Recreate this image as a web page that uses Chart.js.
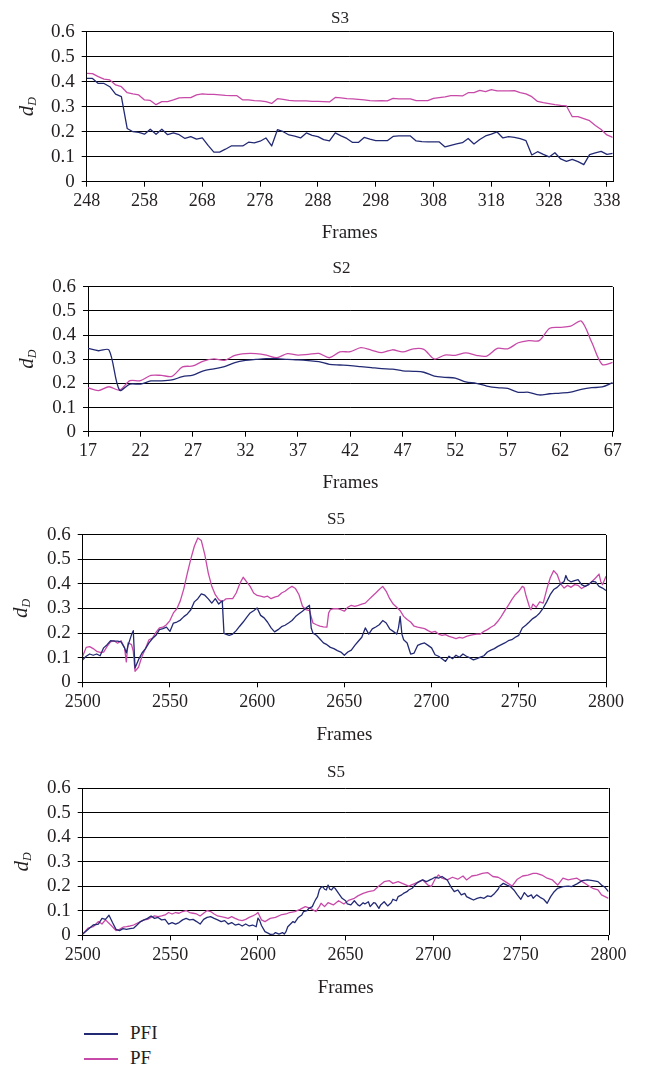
<!DOCTYPE html>
<html>
<head>
<meta charset="utf-8">
<script src="https://cdn.jsdelivr.net/npm/chart.js@4.4.0/dist/chart.umd.min.js"></script>
<style>
  body { margin: 0; background: #fff; width: 649px; height: 1068px; position: relative; overflow: hidden; }
  canvas { position: absolute; left: 0; }
  .key { position: absolute; left: 84px; width: 34px; height: 1.5px; }
  .lbl { position: absolute; left: 130px; font: 19px "Liberation Serif", serif; line-height: 22px; color: #231f20; }
</style>
</head>
<body>
<canvas id="s3" width="649" height="250" style="top:0px"></canvas>
<canvas id="s2" width="649" height="250" style="top:250px"></canvas>
<canvas id="s5a" width="649" height="250" style="top:500px"></canvas>
<canvas id="s5b" width="649" height="250" style="top:760px"></canvas>
<div class="key" style="top:1033px;background:#232a74"></div><div class="lbl" style="top:1022px">PFI</div>
<div class="key" style="top:1058px;background:#c84aa8"></div><div class="lbl" style="top:1047px">PF</div>
<script>
// ---- data ----
const seriesNames = ['PFI', 'PF'];

// S3, frames 248..339
const s3Frames = [];
for (let f = 248; f <= 339; f++) s3Frames.push(f);
const s3Ticks = [248, 258, 268, 278, 288, 298, 308, 318, 328, 338];
const s3PFI = [.413, .413, .393, .393, .38, .35, .34, .213, .2, .197,
  .19, .21, .19, .21, .188, .195, .188, .173, .18, .17,
  .175, .145, .118, .118, .13, .143, .143, .143, .158, .155,
  .162, .175, .143, .208, .2, .187, .182, .175, .195, .185,
  .18, .168, .163, .195, .183, .173, .157, .157, .177, .17,
  .164, .164, .164, .181, .183, .183, .183, .163, .16, .159,
  .159, .159, .139, .145, .151, .156, .173, .151, .169, .183,
  .19, .199, .175, .18, .177, .172, .164, .107, .12, .109,
  .099, .116, .091, .081, .089, .08, .068, .108, .115, .121,
  .109, .113];
const s3PF = [.433, .432, .42, .41, .407, .387, .38, .356, .351, .347,
  .327, .325, .308, .32, .32, .327, .335, .336, .336, .347,
  .351, .349, .349, .347, .345, .344, .344, .327, .327, .324,
  .323, .32, .313, .332, .329, .325, .323, .323, .323, .321,
  .321, .32, .319, .337, .335, .332, .331, .329, .327, .324,
  .323, .324, .323, .333, .331, .331, .331, .324, .324, .324,
  .333, .336, .339, .344, .344, .343, .356, .356, .365, .36,
  .368, .363, .363, .363, .364, .356, .351, .34, .321, .316,
  .312, .308, .305, .303, .26, .26, .252, .244, .225, .209,
  .187, .177];

// S2, frames 17..67
const s2Frames = [];
for (let f = 17; f <= 67; f++) s2Frames.push(f);
const s2Ticks = [17, 22, 27, 32, 37, 42, 47, 52, 57, 62, 67];
const s2PFI = [.345, .335, .338, .172, .197, .197, .21, .21, .214, .228,
  .234, .252, .26, .269, .286, .295, .299, .302, .302, .299,
  .297, .294, .29, .279, .276, .273, .269, .265, .261, .259,
  .252, .25, .246, .23, .225, .222, .206, .2, .189, .182,
  .179, .163, .163, .152, .157, .16, .164, .175, .182, .185,
  .203];
const s2PF = [.182, .17, .186, .172, .211, .211, .233, .233, .229, .268,
  .272, .292, .301, .295, .316, .323, .323, .317, .306, .323,
  .317, .32, .324, .306, .33, .331, .348, .338, .327, .339,
  .33, .343, .341, .301, .317, .316, .326, .316, .313, .345,
  .343, .368, .377, .377, .428, .432, .437, .458, .37, .278,
  .287];

// S5 (first run)
const s5Ticks = [2500, 2550, 2600, 2650, 2700, 2750, 2800];
const s5aPFIFrames = [2500, 2502, 2504, 2506, 2508, 2510, 2512, 2514, 2516, 2518, 2520, 2522, 2524, 2525, 2526, 2528, 2529, 2530,
  2532, 2534, 2536, 2538, 2540, 2542, 2544, 2546, 2548, 2550, 2552, 2554, 2556, 2558, 2560, 2562, 2564, 2566, 2568, 2570,
  2572, 2574, 2576, 2578, 2580, 2581, 2582, 2584, 2586, 2588, 2590, 2592, 2594, 2596, 2598, 2600, 2602, 2604, 2606, 2608,
  2610, 2612, 2614, 2616, 2618, 2620, 2622, 2624, 2626, 2628, 2630, 2631, 2632, 2634, 2636, 2638, 2640, 2642, 2644, 2646,
  2648, 2650, 2652, 2654, 2656, 2658, 2660, 2662, 2664, 2666, 2668, 2670, 2672, 2674, 2676, 2678, 2680, 2681, 2682, 2683,
  2684, 2686, 2688, 2690, 2692, 2694, 2696, 2698, 2700, 2702, 2704, 2706, 2708, 2710, 2712, 2714, 2716, 2718, 2720, 2722,
  2724, 2726, 2728, 2730, 2732, 2734, 2736, 2738, 2740, 2742, 2744, 2746, 2748, 2750, 2752, 2754, 2756, 2758, 2760, 2762,
  2764, 2766, 2768, 2770, 2772, 2774, 2776, 2777, 2778, 2780, 2782, 2784, 2786, 2788, 2790, 2792, 2794, 2796, 2798, 2800];
const s5aPFI = [.092, .106, .115, .11, .115, .108, .14, .153, .169, .167, .167, .164, .14, .12, .15, .194, .21, .058,
  .092, .119, .137, .16, .178, .191, .214, .218, .224, .207, .241, .245, .253, .267, .278, .295, .327, .34, .359, .354,
  .339, .322, .34, .318, .332, .199, .196, .191, .196, .21, .228, .245, .264, .282, .291, .302, .272, .262, .244, .221,
  .205, .214, .226, .232, .241, .251, .267, .279, .289, .302, .313, .221, .2, .191, .176, .16, .153, .142, .137, .129,
  .123, .11, .123, .131, .15, .167, .183, .221, .196, .217, .225, .234, .251, .241, .217, .207, .196, .22, .268, .196,
  .173, .16, .115, .119, .15, .156, .16, .15, .14, .112, .106, .096, .085, .106, .096, .11, .102, .115, .106, .099,
  .091, .096, .102, .108, .123, .131, .137, .146, .153, .16, .169, .173, .183, .191, .221, .232, .245, .259, .268, .282,
  .302, .327, .356, .377, .386, .4, .41, .434, .417, .408, .413, .417, .397, .39, .397, .41, .408, .39, .383, .373];
const s5aPFFrames = [2500, 2502, 2504, 2506, 2508, 2510, 2512, 2514, 2516, 2518, 2520, 2522, 2524, 2525, 2526, 2528, 2529, 2530,
  2532, 2534, 2536, 2538, 2540, 2542, 2544, 2546, 2548, 2550, 2552, 2554, 2556, 2558, 2560, 2562, 2564, 2566, 2568, 2570,
  2572, 2574, 2576, 2578, 2580, 2582, 2584, 2586, 2588, 2590, 2592, 2594, 2596, 2598, 2600, 2602, 2604, 2606, 2608, 2610,
  2612, 2614, 2616, 2618, 2620, 2622, 2624, 2626, 2628, 2630, 2632, 2634, 2636, 2638, 2640, 2641, 2642, 2644, 2646, 2648,
  2650, 2652, 2654, 2656, 2658, 2660, 2662, 2664, 2666, 2668, 2670, 2672, 2674, 2676, 2678, 2680, 2682, 2684, 2686, 2688,
  2690, 2692, 2694, 2696, 2698, 2700, 2702, 2704, 2706, 2708, 2710, 2712, 2714, 2716, 2718, 2720, 2722, 2724, 2726, 2728,
  2730, 2732, 2734, 2736, 2738, 2740, 2742, 2744, 2746, 2748, 2750, 2752, 2753, 2754, 2756, 2757, 2758, 2760, 2762, 2764,
  2766, 2768, 2770, 2772, 2774, 2776, 2778, 2780, 2782, 2784, 2786, 2788, 2790, 2792, 2794, 2796, 2797, 2798, 2800];
const s5aPF = [.106, .142, .145, .137, .126, .122, .123, .146, .164, .169, .159, .169, .14, .083, .16, .153, .126, .045,
  .061, .106, .137, .173, .18, .203, .221, .224, .234, .251, .282, .299, .332, .381, .444, .502, .553, .587, .576, .519,
  .444, .39, .356, .336, .327, .339, .34, .34, .363, .4, .427, .408, .39, .363, .353, .35, .346, .35, .34, .346,
  .35, .363, .37, .381, .39, .381, .356, .309, .295, .291, .241, .234, .228, .225, .224, .282, .295, .299, .299, .295,
  .289, .305, .313, .309, .313, .318, .322, .336, .35, .363, .377, .39, .37, .34, .318, .305, .291, .268, .255, .245,
  .228, .224, .221, .218, .21, .203, .207, .196, .191, .194, .187, .183, .178, .183, .18, .187, .191, .194, .196, .196,
  .207, .214, .224, .232, .248, .268, .291, .313, .336, .356, .37, .39, .386, .356, .309, .295, .318, .305, .327, .322,
  .377, .424, .454, .438, .4, .383, .394, .386, .397, .394, .381, .39, .397, .41, .424, .44, .41, .397, .431];

// S5 (second run)
const s5bPFIFrames = [2500, 2503, 2506, 2509, 2511, 2513, 2515, 2517, 2519, 2521, 2523, 2525, 2527, 2529, 2531, 2533, 2535,
  2537, 2539, 2541, 2543, 2545, 2547, 2549, 2551, 2553, 2555, 2557, 2559, 2561, 2563, 2565, 2567, 2569, 2571, 2573, 2575,
  2577, 2579, 2581, 2583, 2585, 2587, 2589, 2591, 2593, 2595, 2597, 2599, 2600, 2601, 2602, 2604, 2606, 2607, 2609, 2610,
  2612, 2614, 2615, 2616, 2617, 2620, 2621, 2623, 2625, 2626, 2628, 2629, 2631, 2632, 2633, 2634, 2635, 2636, 2637, 2638,
  2639, 2640, 2641, 2642, 2643, 2644, 2646, 2648, 2650, 2651, 2653, 2655, 2657, 2658, 2660, 2661, 2663, 2664, 2666, 2667,
  2669, 2670, 2672, 2674, 2676, 2677, 2679, 2680, 2682, 2683, 2685, 2686, 2688, 2689, 2691, 2692, 2694, 2696, 2697, 2699,
  2701, 2703, 2705, 2708, 2710, 2712, 2714, 2716, 2718, 2719, 2721, 2723, 2725, 2727, 2729, 2731, 2733, 2735, 2737, 2738,
  2740, 2742, 2744, 2746, 2748, 2750, 2752, 2754, 2756, 2757, 2759, 2761, 2763, 2765, 2767, 2769, 2771, 2774, 2777, 2779,
  2782, 2785, 2788, 2791, 2794, 2796, 2798, 2800];
const s5bPFI = [.005, .024, .042, .046, .069, .065, .082, .052, .024, .019, .027, .024, .027, .029, .042, .056, .063,
  .069, .079, .069, .073, .063, .065, .046, .052, .046, .052, .063, .069, .063, .065, .056, .046, .065, .073, .076, .069,
  .063, .056, .06, .046, .052, .042, .046, .038, .046, .038, .042, .035, .07, .06, .04, .015, .008, .004, .005, .011,
  .005, .011, .005, .015, .035, .056, .052, .073, .083, .097, .101, .11, .117, .133, .147, .158, .185, .196, .199, .188,
  .185, .205, .188, .185, .196, .192, .171, .151, .141, .128, .124, .141, .124, .12, .133, .128, .137, .117, .133, .131,
  .11, .124, .137, .12, .133, .147, .141, .158, .165, .171, .178, .185, .192, .201, .215, .219, .226, .219, .222, .229,
  .237, .233, .24, .226, .199, .178, .185, .165, .171, .158, .151, .144, .151, .155, .151, .161, .158, .171, .188, .201,
  .212, .205, .199, .185, .165, .147, .174, .158, .165, .151, .165, .155, .147, .131, .158, .178, .192, .199, .201, .199,
  .21, .223, .226, .223, .219, .205, .196, .178];
const s5bPFFrames = [2500, 2503, 2506, 2509, 2511, 2513, 2515, 2517, 2519, 2521, 2523, 2525, 2527, 2529, 2531, 2533, 2535,
  2537, 2539, 2541, 2543, 2545, 2547, 2549, 2551, 2553, 2555, 2557, 2559, 2561, 2563, 2565, 2567, 2569, 2571, 2573, 2575,
  2577, 2579, 2581, 2583, 2585, 2587, 2589, 2591, 2593, 2595, 2597, 2599, 2600, 2602, 2604, 2607, 2610, 2613, 2616, 2618,
  2621, 2624, 2627, 2630, 2633, 2635, 2636, 2638, 2640, 2643, 2646, 2649, 2652, 2655, 2657, 2660, 2663, 2666, 2669, 2672,
  2675, 2677, 2680, 2683, 2686, 2689, 2692, 2694, 2697, 2699, 2701, 2703, 2705, 2708, 2711, 2714, 2717, 2719, 2722, 2725,
  2728, 2731, 2734, 2737, 2739, 2742, 2745, 2748, 2751, 2754, 2757, 2759, 2762, 2765, 2768, 2771, 2774, 2777, 2779, 2782,
  2785, 2788, 2791, 2794, 2796, 2800];
const s5bPF = [.005, .029, .035, .056, .046, .063, .049, .035, .019, .024, .033, .035, .038, .042, .049, .056, .063,
  .065, .073, .079, .076, .079, .083, .093, .087, .093, .09, .097, .101, .093, .09, .087, .079, .09, .101, .097, .087,
  .079, .076, .073, .069, .076, .069, .063, .06, .065, .073, .079, .087, .093, .063, .056, .069, .073, .083, .087, .093,
  .097, .106, .117, .11, .097, .117, .131, .117, .133, .124, .141, .128, .144, .151, .161, .171, .178, .182, .201, .219,
  .223, .212, .219, .21, .201, .21, .219, .226, .205, .2, .229, .246, .233, .226, .237, .229, .242, .226, .242, .246,
  .253, .256, .24, .237, .229, .215, .201, .229, .242, .246, .253, .253, .246, .233, .226, .205, .233, .226, .229, .233,
  .219, .205, .192, .185, .165, .151];

// ---- drawing ----
const pfiColor = '#232a74';
const pfColor = '#c84aa8';
const textColor = '#231f20';
const serif = '"Liberation Serif", "Times New Roman", serif';

function toPoints(frames, values) {
  return frames.map((f, i) => ({ x: f, y: values[i] }));
}

// right edge of the plot frame
const frameBorder = {
  id: 'frameBorder',
  beforeDatasetsDraw(chart) {
    const { ctx, chartArea: a } = chart;
    const x = Math.round(a.right) + 0.5;
    ctx.save();
    ctx.strokeStyle = '#000';
    ctx.lineWidth = 1;
    ctx.beginPath();
    ctx.moveTo(x, Math.round(a.top));
    ctx.lineTo(x, Math.round(a.bottom));
    ctx.stroke();
    ctx.restore();
  }
};

// rotated "d" with subscript D
const yTitle = {
  id: 'yTitle',
  afterDraw(chart, args, opts) {
    const { ctx, chartArea: a } = chart;
    ctx.save();
    ctx.translate(opts.x, (a.top + a.bottom) / 2);
    ctx.rotate(-Math.PI / 2);
    ctx.fillStyle = textColor;
    ctx.textBaseline = 'alphabetic';
    ctx.font = 'italic 21px ' + serif;
    const wd = ctx.measureText('d').width;
    ctx.font = 'italic 12px ' + serif;
    const wD = ctx.measureText('D').width;
    const start = -(wd + wD) / 2;
    ctx.font = 'italic 21px ' + serif;
    ctx.fillText('d', start, 0);
    ctx.font = 'italic 12px ' + serif;
    ctx.fillText('D', start + wd, 3);
    ctx.restore();
  }
};

function panel(id, p) {
  const W = 649, H = 250;
  const titleLh = 17 * 1.2, axisLh = 19 * 1.2;
  // the title is centred on the whole chart box, not on the plot
  const padLeft = 2 * p.titleX - W;
  const line = (label, data, color) => ({
    label, data, borderColor: color, backgroundColor: color, borderWidth: 1.3,
    pointRadius: 0, tension: p.tension || 0, borderJoinStyle: 'round', fill: false
  });
  return new Chart(document.getElementById(id), {
    type: 'line',
    data: {
      datasets: [
        line(seriesNames[0], toPoints(p.pfiFrames, p.pfi), pfiColor),
        line(seriesNames[1], toPoints(p.pfFrames, p.pf), pfColor)
      ]
    },
    options: {
      responsive: false,
      animation: false,
      events: [],
      layout: { padding: { left: padLeft, right: 0, top: 0, bottom: 0 } },
      plugins: {
        legend: { display: false },
        tooltip: { enabled: false },
        title: {
          display: true, text: p.title, color: textColor,
          font: { family: serif, size: 17, weight: 'normal' },
          padding: { top: p.titleY - titleLh / 2, bottom: p.top - p.titleY - titleLh / 2 }
        },
        yTitle: { x: p.yTitleX }
      },
      scales: {
        x: {
          type: 'linear', min: p.min, max: p.max,
          afterBuildTicks: s => { s.ticks = p.ticks.map(v => ({ value: v })); },
          afterFit: s => { s.height = H - p.bottom; },
          grid: { drawOnChartArea: false, drawTicks: true, tickLength: 5, color: '#000' },
          border: { color: '#000', width: 1 },
          ticks: {
            color: textColor, font: { family: serif, size: 18 }, padding: 4,
            maxRotation: 0, autoSkip: false, callback: v => String(v)
          },
          title: {
            display: true, text: 'Frames', color: textColor,
            font: { family: serif, size: 19 },
            padding: { top: 0, bottom: H - p.framesY - axisLh / 2 }
          }
        },
        y: {
          min: 0, max: 0.6,
          afterFit: s => { s.width = p.left - padLeft; },
          grid: { color: '#000', lineWidth: 1, tickLength: 5 },
          border: { color: '#000', width: 1 },
          ticks: {
            stepSize: 0.1, autoSkip: false, color: textColor, font: { family: serif, size: 19 }, padding: 7,
            callback: v => String(Math.round(v * 10) / 10)
          }
        },
        // empty right-hand box so the plot ends where the frame ends
        yEdge: {
          position: 'right', display: true,
          afterFit: s => { s.width = W - p.right; },
          grid: { display: false },
          ticks: { display: false },
          border: { display: false }
        }
      }
    },
    plugins: [frameBorder, yTitle]
  });
}

panel('s3', {
  title: 'S3', pfiFrames: s3Frames, pfi: s3PFI, pfFrames: s3Frames, pf: s3PF,
  ticks: s3Ticks, min: 248, max: 339,
  left: 86.7, right: 612.7, top: 31.7, bottom: 181.7, titleY: 18.5, titleX: 340, framesY: 233, yTitleX: 33
});
panel('s2', {
  title: 'S2', pfiFrames: s2Frames, pfi: s2PFI, pfFrames: s2Frames, pf: s2PF,
  ticks: s2Ticks, min: 17, max: 67, tension: 0.3,
  left: 88, right: 612.7, top: 36.7, bottom: 181.7, titleY: 18.7, titleX: 341.4, framesY: 233.3, yTitleX: 33
});
panel('s5a', {
  title: 'S5', pfiFrames: s5aPFIFrames, pfi: s5aPFI, pfFrames: s5aPFFrames, pf: s5aPF,
  ticks: s5Ticks, min: 2500, max: 2800,
  left: 82.7, right: 606, top: 34.7, bottom: 182.3, titleY: 19.5, titleX: 336, framesY: 235, yTitleX: 27
});
panel('s5b', {
  title: 'S5', pfiFrames: s5bPFIFrames, pfi: s5bPFI, pfFrames: s5bPFFrames, pf: s5bPF,
  ticks: s5Ticks, min: 2500, max: 2800,
  left: 82.7, right: 608.5, top: 28.3, bottom: 175.3, titleY: 12.5, titleX: 336, framesY: 228.3, yTitleX: 28
});
</script>
</body>
</html>
